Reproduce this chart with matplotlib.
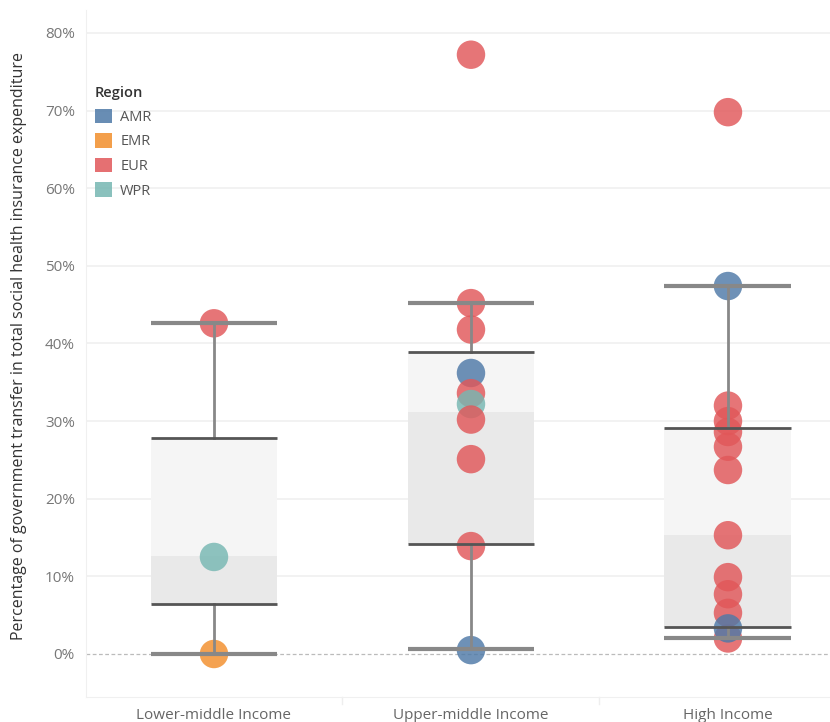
import matplotlib
matplotlib.use("Agg")
import matplotlib.pyplot as plt
from matplotlib.patches import Patch
from matplotlib.ticker import FuncFormatter

# categories and points (value in %, region)
categories = ["Lower-middle Income", "Upper-middle Income", "High Income"]

lm_vals = [42.6, 12.5, 0.0]
lm_regs = ["EUR", "WPR", "EMR"]
um_vals = [77.2, 45.2, 41.8, 36.2, 33.6, 32.2, 30.2, 25.1, 13.9, 0.5]
um_regs = ["EUR", "EUR", "EUR", "AMR", "EUR", "WPR", "EUR", "EUR", "EUR", "AMR"]
hi_vals = [69.8, 47.4, 32.0, 30.0, 28.6, 26.7, 23.7, 15.3, 9.9, 7.7, 5.3, 2.0, 3.3]
hi_regs = ["EUR", "AMR", "EUR", "EUR", "EUR", "EUR", "EUR", "EUR", "EUR", "EUR", "EUR", "EUR", "AMR"]

# box stats: whisker low, q1, median, q3, whisker high
whisk_lo = [0.0, 0.6, 2.0]
q1 = [6.4, 14.2, 3.5]
median = [12.6, 31.2, 15.3]
q3 = [27.8, 38.9, 29.1]
whisk_hi = [42.6, 45.2, 47.4]

regions = ["AMR", "EMR", "EUR", "WPR"]
colors = {"AMR": "#4e79a7", "EMR": "#f28e2b", "EUR": "#e15759", "WPR": "#76b7b2"}

plt.rcParams["font.family"] = ["Open Sans", "DejaVu Sans"]

fig = plt.figure(figsize=(8.3, 7.22), dpi=100)
ax = fig.add_axes([86 / 830, 1 - 697 / 722, 1 - 86 / 830, (697 - 10) / 722])
ax.set_xlim(-0.498, 2.397)
ax.set_ylim(-5.54, 82.96)

# gridlines
for v in range(10, 90, 10):
    ax.axhline(v, color="#f0f0f0", lw=1.2, zorder=0)
ax.axhline(0, color="#bbbbbb", lw=0.9, ls=(0, (3, 2)), zorder=1)

w = 0.494
for i in range(3):
    ax.bar(i, q3[i] - median[i], bottom=median[i], width=w, color="#f5f5f5", zorder=1)
    ax.bar(i, median[i] - q1[i], bottom=q1[i], width=w, color="#e9e9e9", zorder=1)

groups = [(lm_vals, lm_regs), (um_vals, um_regs), (hi_vals, hi_regs)]
for i, (vals, regs) in enumerate(groups):
    ax.scatter([i] * len(vals), vals, s=420, c=[colors[r] for r in regs],
               alpha=0.82, edgecolors="none", zorder=2)

for i in range(3):
    ax.plot([i, i], [whisk_lo[i], q1[i]], color="#888888", lw=2, zorder=3)
    ax.plot([i, i], [q3[i], whisk_hi[i]], color="#888888", lw=2, zorder=3)
    ax.plot([i - w / 2, i + w / 2], [whisk_lo[i]] * 2, color="#888888", lw=3, zorder=3, solid_capstyle="butt")
    ax.plot([i - w / 2, i + w / 2], [whisk_hi[i]] * 2, color="#888888", lw=3, zorder=3, solid_capstyle="butt")
    ax.plot([i - w / 2, i + w / 2], [q1[i]] * 2, color="#555555", lw=2, zorder=3, solid_capstyle="butt")
    ax.plot([i - w / 2, i + w / 2], [q3[i]] * 2, color="#555555", lw=2, zorder=3, solid_capstyle="butt")

ax.set_yticks(range(0, 90, 10))
ax.yaxis.set_major_formatter(FuncFormatter(lambda v, p: f"{v:.0f}%"))
ax.set_xticks(range(3))
ax.set_xticklabels(categories)
ax.tick_params(axis="y", length=0, labelsize=11, labelcolor="#777777", pad=8)
ax.tick_params(axis="x", length=0, labelsize=11, labelcolor="#666666", pad=8)
for x in [0.5, 1.5]:
    ax.plot([x, x], [-5.54, -6.4], color="#eeeeee", lw=1, clip_on=False)

for s in ["top", "right"]:
    ax.spines[s].set_visible(False)
ax.spines["left"].set_color("#f0f0f0")
ax.spines["bottom"].set_color("#f0f0f0")

ax.set_ylabel("Percentage of government transfer in total social health insurance expenditure",
              fontsize=11.5, color="#333333")
ax.yaxis.set_label_coords(-59 / 744, 0.511)

handles = [Patch(facecolor=colors[r], alpha=0.85, label=r) for r in regions]
leg = ax.legend(handles=handles, title="Region", loc="upper left",
                bbox_to_anchor=(0.0, 0.902), frameon=False, fontsize=10.5,
                title_fontsize=10.5, handlelength=1.15, handleheight=1.15,
                handletextpad=0.6, labelspacing=0.58, borderaxespad=0.2,
                alignment="left")
leg.get_title().set_color("#333333")
leg.get_title().set_fontweight("semibold")
for t in leg.get_texts():
    t.set_color("#555555")

fig.savefig("out.png", dpi=100)
